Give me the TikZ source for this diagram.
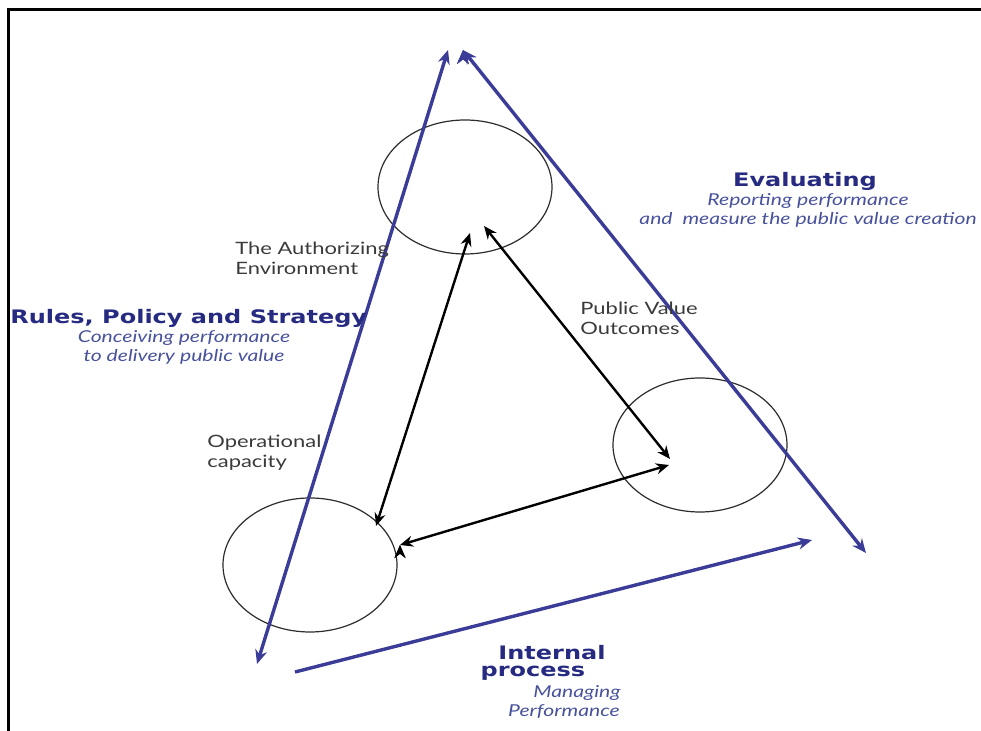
\documentclass[tikz,border=0pt]{standalone}
\usepackage{fontspec}
\setmainfont[FakeStretch=1.29]{Lato}
\newfontfamily\headfont[FakeStretch=1.29]{DejaVu Sans}
\usetikzlibrary{arrows.meta,shapes.geometric}

\definecolor{lineblue}{RGB}{58,60,152}
\definecolor{headblue}{RGB}{38,42,128}
\definecolor{subblue}{RGB}{72,82,156}
\definecolor{notegray}{RGB}{58,58,58}
\definecolor{ringgray}{RGB}{45,45,45}

\tikzset{
	bluetip/.tip={Stealth[length=7pt,width=6pt]},
	blacktip/.tip={Stealth[length=6.5pt,width=5.5pt]}
}

\begin{document}
\begin{tikzpicture}[x=0.5pt,y=-0.5pt,
	ring/.style={shape=ellipse,draw=ringgray,line width=0.6pt,minimum width=87pt,minimum height=67pt,inner sep=0pt},
	bluearrow/.style={draw=lineblue,line width=1.7pt},
	blackarrow/.style={draw=black,line width=1.2pt,blacktip-blacktip},
	note/.style={text=notegray,font=\fontsize{8.5}{10}\selectfont,align=left,inner sep=0pt},
	heading/.style={text=headblue,font=\headfont\bfseries\fontsize{9.3}{10}\selectfont,inner sep=0pt},
	subline/.style={text=subblue,font=\itshape\fontsize{8.2}{9.5}\selectfont,align=center,inner sep=0pt}]
	\useasboundingbox (0,0) rectangle (981,731);
	\draw[line width=1.5pt] (981,10) -- (8,10) -- (8,731);

	\node[ring] (auth) at (465,187) {};
	\node[ring] (ops) at (310,565) {};
	\node[ring] (pvo) at (700,445) {};

	\coordinate (lt) at (448,50);
	\coordinate (lb) at (257,664);
	\coordinate (rt) at (463,50);
	\coordinate (rb) at (866,553);
	\coordinate (bl) at (295,672);
	\coordinate (br) at (812,540);

	\coordinate (a1) at (470,233);
	\coordinate (a2) at (484,226);
	\coordinate (o1) at (376,526);
	\coordinate (o2) at (400,545);
	\coordinate (p1) at (670,459);
	\coordinate (p2) at (669,465);

	\path [bluearrow,bluetip-bluetip]
	(lb) edge (lt)
	(rt) edge (rb);
	\draw [bluearrow,-bluetip] (bl) -- (br);

	\path [blackarrow]
	(a1) edge (o1)
	(a2) edge (p1)
	(o2) edge (p2);

	\node[note,anchor=west] (authtext) at (235,258) {The Authorizing\\Environment};
	\node[note,anchor=west] (pvotext) at (580,318) {Public Value\\Outcomes};
	\node[note,anchor=west] (opstext) at (207,453) {Operational\\capacity};

	\node[heading] (evalhead) at (805,181) {Evaluating};
	\node[subline] (evalsub) at (808,210) {Reporting performance\\and \ measure the public value creation};

	\node[heading,anchor=west] (ruleshead) at (10,318) {Rules, Policy and Strategy};
	\node[subline] (rulessub) at (184,347) {Conceiving performance\\to delivery public value};

	\node[heading] (inthead) at (552,653) {Internal};
	\node[heading] (inthead2) at (533,673) {process};
	\node[subline] (intsub) at (577,693) {Managing};
	\node[subline] (intsub2) at (564,712) {Performance};
\end{tikzpicture}
\end{document}
